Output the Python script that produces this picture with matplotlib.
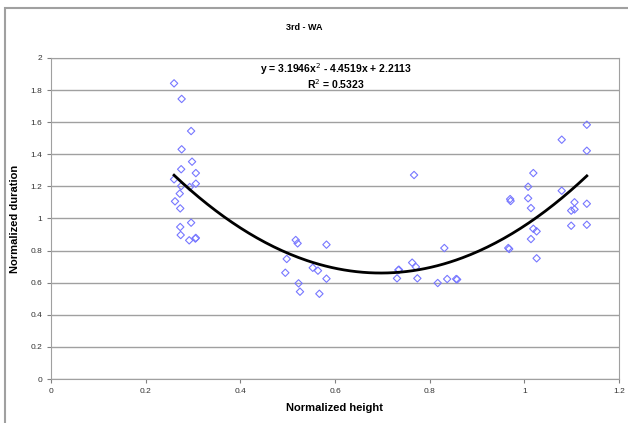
import numpy as np
import matplotlib
matplotlib.use("Agg")
import matplotlib.pyplot as plt
from matplotlib.patches import Rectangle

plt.rcParams['font.family'] = ['Liberation Sans', 'DejaVu Sans']

# normalized height / normalized duration
height = [0.260, 0.276, 0.296, 0.276, 0.298, 0.275, 0.306, 0.260, 0.275, 0.293,
          0.306, 0.272, 0.262, 0.273, 0.296, 0.273, 0.274, 0.292, 0.306, 0.305,
          0.517, 0.521, 0.582, 0.498, 0.495, 0.553, 0.564, 0.582, 0.523, 0.526,
          0.567, 0.734, 0.731, 0.763, 0.771, 0.774, 0.767, 0.735, 0.831, 0.817,
          0.837, 0.856, 0.858,
          1.132, 1.079, 1.132, 1.019, 1.008, 1.079, 0.970, 0.971, 1.008, 1.014,
          1.106, 1.132, 1.099, 1.106, 1.099, 1.132, 1.019, 1.026, 1.014, 0.966,
          0.968, 1.026]
duration = [1.842, 1.745, 1.545, 1.431, 1.354, 1.307, 1.283, 1.244, 1.202, 1.196,
            1.217, 1.155, 1.107, 1.063, 0.974, 0.947, 0.897, 0.864, 0.879, 0.875,
            0.866, 0.845, 0.837, 0.748, 0.662, 0.693, 0.675, 0.625, 0.596, 0.544,
            0.531, 0.679, 0.627, 0.725, 0.698, 0.627, 1.271, 0.681, 0.816, 0.598,
            0.623, 0.623, 0.620,
            1.584, 1.491, 1.422, 1.283, 1.198, 1.173, 1.121, 1.109, 1.126, 1.065,
            1.101, 1.092, 1.049, 1.057, 0.955, 0.961, 0.936, 0.920, 0.872, 0.816,
            0.810, 0.752]

# trendline coefficients from the chart label
coef = [3.1946, -4.4519, 2.2113]
r2 = 0.5323

fig = plt.figure(figsize=(6.28, 4.23), dpi=100)
fig.patches.append(Rectangle((5 / 628, -0.1), 1.2, 0.1 + 1 - 8 / 423,
                             transform=fig.transFigure, fill=False,
                             edgecolor='#a0a0a0', linewidth=1.5))

ax = fig.add_axes([51 / 628, 1 - 379 / 423, (619 - 51) / 628, (379 - 58) / 423])

ax.scatter(height, duration, marker='D', s=14, facecolors='none',
           edgecolors='#7777ff', linewidths=0.8, zorder=3)

xs = np.linspace(min(height), max(height), 200)
ax.plot(xs, np.polyval(coef, xs), color='black', linewidth=2, zorder=4)

ax.set_xlim(0, 1.2)
ax.set_ylim(0, 2)
ax.set_xticks(np.arange(0, 1.21, 0.2))
ax.set_xticklabels(['0', '0.2', '0.4', '0.6', '0.8', '1', '1.2'])
ax.set_yticks(np.arange(0, 2.01, 0.2))
ax.set_yticklabels(['0', '0.2', '0.4', '0.6', '0.8', '1', '1.2', '1.4', '1.6', '1.8', '2'])
ax.grid(axis='y', color='#a0a0a0', linewidth=1)
ax.set_axisbelow(True)
for s in ax.spines.values():
    s.set_color('#a0a0a0')
ax.tick_params(colors='#808080', labelcolor='#333333', labelsize=6, length=3, width=0.8)

ax.set_xlabel('Normalized height', fontsize=8, fontweight='bold', labelpad=6)
ax.set_ylabel('Normalized duration', fontsize=8, fontweight='bold')
ax.yaxis.set_label_coords((20 - 51) / 568, 0.5)

fig.text(304 / 628, 1 - 27 / 423, '3rd - WA', fontsize=6.5, fontweight='bold',
         ha='center', va='center')
fig.text(336 / 628, 1 - 69 / 423,
         'y = %.4fx$^2$ - %.4fx + %.4f' % (coef[0], -coef[1], coef[2]),
         fontsize=7.5, fontweight='bold', ha='center', va='center')
fig.text(336 / 628, 1 - 84 / 423, 'R$^2$ = %.4f' % r2,
         fontsize=7.5, fontweight='bold', ha='center', va='center')

fig.savefig('out.png', dpi=100)
